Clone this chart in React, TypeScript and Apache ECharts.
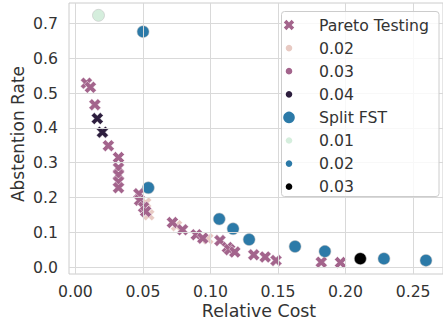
import React, { useEffect, useRef } from "react";
import * as echarts from "echarts";

// ---- data ----
const xTicks = [0, 0.05, 0.1, 0.15, 0.2, 0.25];
const yTicks = [0, 0.1, 0.2, 0.3, 0.4, 0.5, 0.6, 0.7];

const paretoT002 = [
  [0.052, 0.184],
  [0.0543, 0.15],
  [0.0749, 0.119],
  [0.098, 0.081],
];
const paretoT003 = [
  [0.0082, 0.529],
  [0.0111, 0.517],
  [0.0144, 0.467],
  [0.0244, 0.349],
  [0.0319, 0.315],
  [0.0319, 0.285],
  [0.0319, 0.265],
  [0.0319, 0.245],
  [0.0319, 0.228],
  [0.047, 0.211],
  [0.0475, 0.192],
  [0.0505, 0.172],
  [0.052, 0.16],
  [0.0718, 0.128],
  [0.0793, 0.107],
  [0.0895, 0.093],
  [0.0943, 0.083],
  [0.107, 0.076],
  [0.1125, 0.056],
  [0.1142, 0.05],
  [0.118, 0.043],
  [0.132, 0.035],
  [0.1405, 0.029],
  [0.1485, 0.019],
  [0.182, 0.014],
  [0.1962, 0.013],
];
const paretoT004 = [
  [0.0162, 0.427],
  [0.02, 0.388],
];

const splitT001 = [[0.0171, 0.724]];
const splitT002 = [
  [0.0501, 0.677],
  [0.054, 0.228],
  [0.1065, 0.138],
  [0.1167, 0.11],
  [0.1286, 0.079],
  [0.1626, 0.059],
  [0.1847, 0.045],
  [0.2284, 0.024],
  [0.2595, 0.019],
];
const splitT003 = [[0.2109, 0.024]];

const legendItems = [
  { label: "Pareto Testing", kind: "x", color: "#a3648c" },
  { label: "0.02", kind: "dot", color: "#e8cac3" },
  { label: "0.03", kind: "dot", color: "#a3648c" },
  { label: "0.04", kind: "dot", color: "#2d1e3e" },
  { label: "Split FST", kind: "big", color: "#2c7aa8" },
  { label: "0.01", kind: "dot", color: "#d5eedd" },
  { label: "0.02", kind: "dot", color: "#2c7aa8" },
  { label: "0.03", kind: "dot", color: "#000000" },
];

const FONT = "DejaVu Sans";
const TXT = "#333333";
const GRID = "#d9d9d9";

const xPath =
  "path://M2 3 L1 4 L0 3 L1 2 L0 1 L1 0 L2 1 L3 0 L4 1 L3 2 L4 3 L3 4 Z";

export default function App() {
  const ref = useRef<HTMLDivElement>(null);
  useEffect(() => {
    document.body.style.margin = "0";
    const chart = echarts.init(ref.current!, null, { renderer: "svg" });

    const xSeries = (data: number[][], color: string) => ({
      type: "scatter",
      data,
      symbol: xPath,
      symbolSize: 12,
      z: 3,
      itemStyle: { color, borderColor: "rgba(255,255,255,0.75)", borderWidth: 0.6, opacity: 1 },
      silent: true,
    });
    const cSeries = (data: number[][], color: string) => ({
      type: "scatter",
      data,
      symbol: "circle",
      symbolSize: 12,
      z: 4,
      itemStyle: { color, borderColor: "rgba(190,190,190,0.9)", borderWidth: 0.6, opacity: 1 },
      silent: true,
    });

    const legendX = 289;
    const legendTop = 25;
    const legendStep = 23.1;
    const legendChildren: any[] = [
      {
        type: "rect",
        z: 100,
        shape: { x: 281.5, y: 11.5, width: 157.5, height: 185, r: 3 },
        style: { fill: "rgba(255,255,255,0.82)", stroke: "#cccccc", lineWidth: 1 },
      },
    ];
    legendItems.forEach((it, i) => {
      const cy = legendTop + i * legendStep;
      if (it.kind === "x") {
        const s = 2.6;
        legendChildren.push({
          type: "polygon",
          z: 101,
          shape: {
            points: [
              [0, 1], [-1, 2], [-2, 1], [-1, 0], [-2, -1], [-1, -2],
              [0, -1], [1, -2], [2, -1], [1, 0], [2, 1], [1, 2],
            ].map(([a, b]) => [legendX + a * s, cy + b * s]),
          },
          style: { fill: it.color },
        });
      } else {
        legendChildren.push({
          type: "circle",
          z: 101,
          shape: { cx: legendX, cy, r: it.kind === "big" ? 5.8 : 3.3 },
          style: { fill: it.color },
        });
      }
      legendChildren.push({
        type: "text",
        z: 101,
        x: 319,
        y: cy,
        style: {
          text: it.label,
          fill: TXT,
          font: `15.7px "${FONT}"`,
          verticalAlign: "middle",
          align: "left",
        },
      });
    });

    chart.setOption({
      animation: false,
      grid: {
        left: 69,
        top: 3,
        width: 380,
        height: 271,
        show: true,
        borderColor: "#cccccc",
        borderWidth: 1,
        backgroundColor: "#ffffff",
      },
      xAxis: {
        type: "value",
        min: -0.00473,
        max: 0.2721,
        axisLine: { show: false },
        axisTick: { show: false },
        splitLine: { show: false },
        axisLabel: {
          customValues: xTicks,
          formatter: (v: number) => v.toFixed(2),
          color: TXT,
          fontFamily: FONT,
          fontSize: 15.7,
          margin: 9,
        },
      },
      yAxis: {
        type: "value",
        min: -0.0201,
        max: 0.7595,
        axisLine: { show: false },
        axisTick: { show: false },
        splitLine: { show: false },
        axisLabel: {
          customValues: yTicks,
          formatter: (v: number) => v.toFixed(1),
          color: TXT,
          fontFamily: FONT,
          fontSize: 15.7,
          margin: 11,
        },
      },
      series: [
        {
          type: "scatter",
          data: [],
          z: 1,
          silent: true,
          markLine: {
            silent: true,
            symbol: ["none", "none"],
            label: { show: false },
            lineStyle: { type: "solid", color: GRID, width: 1 },
            data: [
              ...xTicks.map((v) => ({ xAxis: v })),
              ...yTicks.map((v) => ({ yAxis: v })),
            ],
          },
        },
        xSeries(paretoT002, "#e8cac3"),
        xSeries(paretoT003, "#a3648c"),
        xSeries(paretoT004, "#2d1e3e"),
        cSeries(splitT001, "#d5eedd"),
        cSeries(splitT002, "#2c7aa8"),
        cSeries(splitT003, "#000000"),
      ],
      graphic: [
        {
          type: "text",
          x: 259,
          y: 311,
          style: {
            text: "Relative Cost",
            fill: TXT,
            font: `17.4px "${FONT}"`,
            align: "center",
            verticalAlign: "middle",
          },
        },
        {
          type: "text",
          x: 18,
          y: 134,
          rotation: Math.PI / 2,
          style: {
            text: "Abstention Rate",
            fill: TXT,
            font: `17px "${FONT}"`,
            align: "center",
            verticalAlign: "middle",
          },
        },
        { type: "group", z: 100, children: legendChildren },
      ],
    });
    return () => chart.dispose();
  }, []);
  return (
    <div
      ref={ref}
      style={{ position: "absolute", left: 0, top: 0, width: 443, height: 324 }}
    />
  );
}
